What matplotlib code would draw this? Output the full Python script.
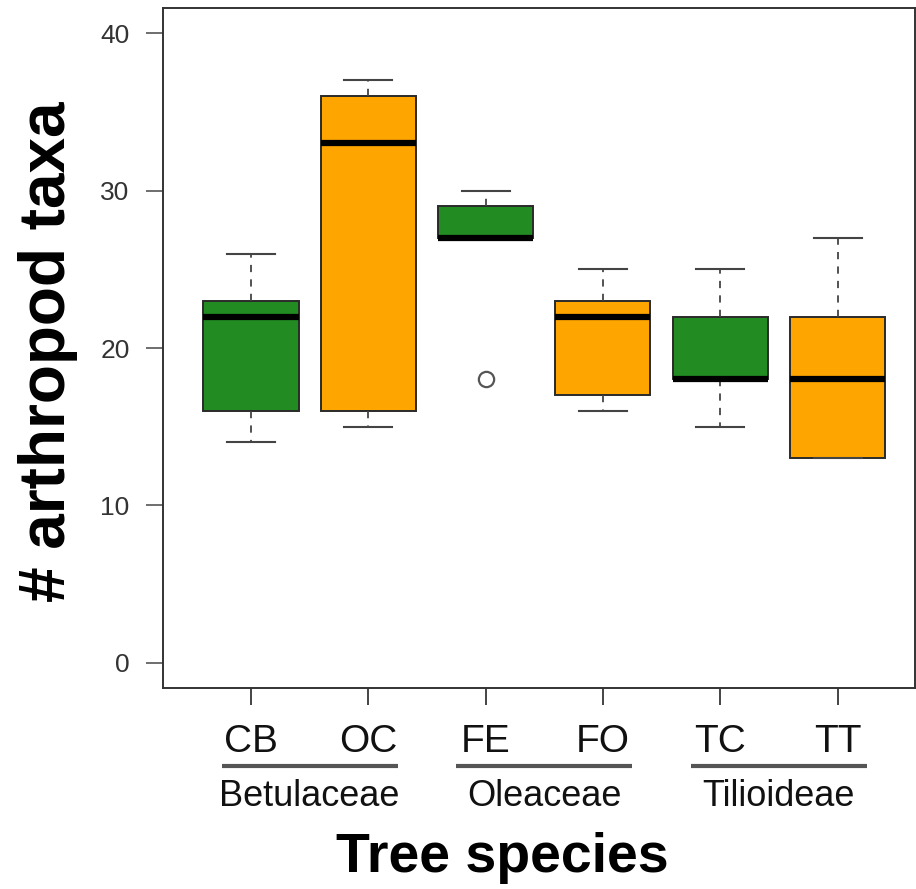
import matplotlib

matplotlib.use("Agg")
import matplotlib.pyplot as plt
from matplotlib.transforms import blended_transform_factory

plt.rcParams["font.family"] = ["Liberation Sans", "DejaVu Sans"]

# ---------------------------------------------------------------------
# data
# ---------------------------------------------------------------------
species = ["CB", "OC", "FE", "FO", "TC", "TT"]
whisk_lo = [14, 15, 27, 16, 15, 13]
q1 = [16, 16, 27, 17, 18, 13]
medians = [22, 33, 27, 22, 18, 18]
q3 = [23, 36, 29, 23, 22, 22]
whisk_hi = [26, 37, 30, 25, 25, 27]
outliers = [[], [], [18], [], [], []]
box_colors = ["#228B22", "#FFA500", "#228B22", "#FFA500", "#228B22", "#FFA500"]

families = ["Betulaceae", "Oleaceae", "Tilioideae"]
family_members = [(1, 2), (3, 4), (5, 6)]

y_ticks = [0, 10, 20, 30, 40]

# ---------------------------------------------------------------------
# figure
# ---------------------------------------------------------------------
fig = plt.figure(figsize=(9.16, 8.89), dpi=100)
ax = fig.add_axes([163 / 916, 1 - 688 / 889, (915 - 163) / 916, (688 - 8) / 889])

stats = []
for i, name in enumerate(species):
    stats.append({
        "label": name,
        "whislo": whisk_lo[i],
        "q1": q1[i],
        "med": medians[i],
        "q3": q3[i],
        "whishi": whisk_hi[i],
        "fliers": outliers[i],
    })

positions = list(range(1, len(species) + 1))
bp = ax.bxp(
    stats,
    positions=positions,
    widths=0.81,
    capwidths=0.41,
    patch_artist=True,
    showfliers=True,
    boxprops=dict(edgecolor="#2a2a2a", linewidth=1.4),
    medianprops=dict(color="black", linewidth=4.5, solid_capstyle="butt"),
    whiskerprops=dict(color="#444444", linewidth=1.3, linestyle=(0, (4, 4))),
    capprops=dict(color="#444444", linewidth=1.5),
    flierprops=dict(marker="o", markersize=11, markerfacecolor="none",
                    markeredgecolor="#555555", markeredgewidth=1.6),
)
for patch, c in zip(bp["boxes"], box_colors):
    patch.set_facecolor(c)

ax.set_xlim(0.25, 6.66)
ax.set_ylim(-1.6, 41.6)

ax.set_yticks(y_ticks)
ax.set_yticklabels([str(v) for v in y_ticks], fontsize=19, color="#333333")
ax.tick_params(axis="y", length=12, width=1.2, color="#555555", pad=12)

ax.set_xticks(positions)
ax.set_xticklabels(species, fontsize=28, color="#111111")
ax.tick_params(axis="x", length=12, width=1.4, color="#444444", pad=14)

for sp in ax.spines.values():
    sp.set_color("#333333")
    sp.set_linewidth(1.4)

# family brackets below tick labels
trans = blended_transform_factory(ax.transData, fig.transFigure)
for fam, (a, b) in zip(families, family_members):
    ax.plot([a - 0.25, b + 0.25], [1 - 766 / 889] * 2, transform=trans,
            color="#555555", linewidth=3, clip_on=False, solid_capstyle="butt")
    ax.text((a + b) / 2, 1 - 797 / 889, fam, transform=trans, fontsize=26,
            ha="center", va="center", color="#111111")

fig.text(502 / 916, 1 - 858 / 889, "Tree species", fontsize=40,
         fontweight="bold", ha="center", va="center")
fig.text(48 / 916, 1 - 352 / 889, "# arthropod taxa", fontsize=46,
         fontweight="bold", ha="center", va="center", rotation=90)

fig.savefig("out.png", dpi=100)
